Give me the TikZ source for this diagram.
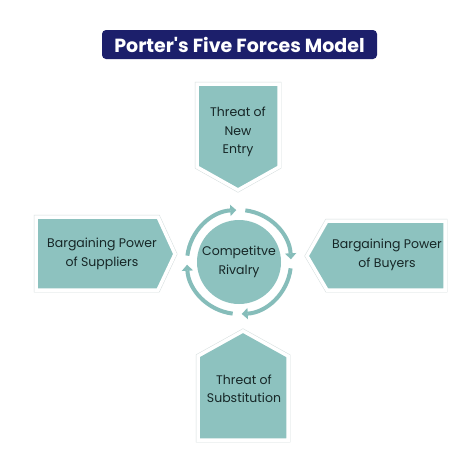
\documentclass[tikz,border=0pt]{standalone}
\usepackage{fontspec}
\setmainfont{Poppins}
\usepackage{xcolor}
\usepackage{tikz}
\usetikzlibrary{arrows.meta}
\definecolor{verde}{HTML}{8DC2BF}
\definecolor{anelcor}{HTML}{86BDBA}
\definecolor{marinho}{HTML}{1C1F6B}
\definecolor{tinta}{HTML}{162626}
\definecolor{borda}{HTML}{D5DEDE}
\tikzset{
  forca/.style={fill=verde, draw=white, line width=3.5pt, line join=miter, preaction={draw=borda, line width=4.5pt, line join=miter}},
  texto/.style={align=center, text=tinta, font=\fontsize{12.5}{18.5}\selectfont, inner sep=0pt},
  titulo/.style={fill=marinho, rounded corners=4pt, text=white, font=\fontsize{19}{22}\selectfont\bfseries, minimum width=275pt, minimum height=29pt},
  anel/.style={draw=anelcor, line width=4pt, -{Triangle[length=6pt,width=11pt]}},
}
\begin{document}
\begin{tikzpicture}[x=1pt, y=-1pt]
  \useasboundingbox[fill=white] (0,0) rectangle (474,474);
  \node[titulo] (m) at (239.5,44.5) {Porter\textquotesingle s Five Forces Model};
  % as quatro forcas externas
  \draw[forca] (197,84) -- (279,84) -- (279,167) -- (238,190) -- (197,167) -- cycle;
  \draw[forca] (36,217) -- (158,217) -- (175,254) -- (158,290) -- (36,290) -- cycle;
  \draw[forca] (445,221) -- (327,221) -- (307,256) -- (327,290) -- (445,290) -- cycle;
  \draw[forca] (198,440) -- (198,356) -- (243,331) -- (288,356) -- (288,440) -- cycle;
  \node[texto] (e) at (238,132) {Threat of\\New\\Entry};
  \node[texto] (s) at (102,254) {Bargaining Power\\of Suppliers};
  \node[texto] (b) at (387,255) {Bargaining Power\\of Buyers};
  \node[texto] (u) at (244,389) {Threat of\\Substitution};
  % rivalidade no centro
  \node[texto, circle, fill=verde, minimum size=84pt] (r) at (239,262) {Competitve\\Rivalry};
  \foreach \a in {-90,0,90,180}
    \draw[anel] (r.center) ++(\a-83:52) arc[start angle=\a-83, end angle=\a-3, radius=52];
\end{tikzpicture}
\end{document}
